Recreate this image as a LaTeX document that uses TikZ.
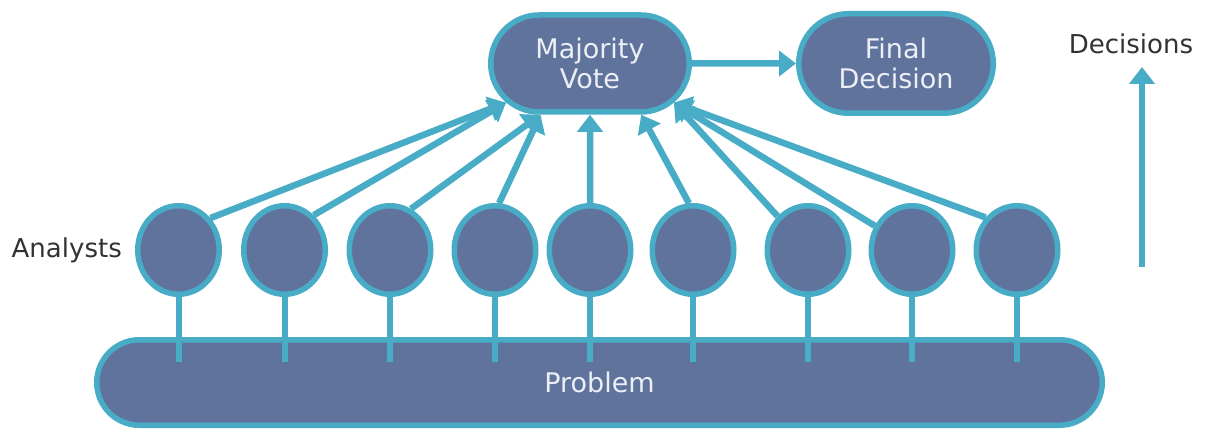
\documentclass[tikz,border=0pt]{standalone}
\usepackage{fontspec}
\setmainfont{DejaVu Sans}
\usepackage{tikz}
\usetikzlibrary{positioning,arrows.meta,shapes.misc,shapes.geometric}
\definecolor{boxslate}{RGB}{96,115,156}
\definecolor{edgecyan}{RGB}{72,172,198}
\definecolor{boxtext}{RGB}{236,239,245}
\definecolor{labgray}{RGB}{50,50,50}

\begin{document}
\begin{tikzpicture}[
      x=1pt, y=-1pt,
      pill/.style={rounded rectangle, draw=edgecyan, fill=boxslate, line width=5.5pt, text=boxtext, align=center, inner sep=0pt, font=\fontsize{27}{30}\selectfont},
      analyst/.style={ellipse, draw=edgecyan, fill=boxslate, line width=5.5pt, minimum width=81.5pt, minimum height=88.5pt, inner sep=0pt},
      arrow/.style={-{Triangle[length=17pt, width=25pt]}, draw=edgecyan, line width=6.5pt},
      stem/.style={draw=edgecyan, line width=6pt},
      lab/.style={text=labgray, inner sep=0pt, font=\fontsize{26}{29}\selectfont}
    ]
    \useasboundingbox (0,0) rectangle (1209,430);

    \node[pill, minimum width=198.5pt, minimum height=97pt] (vote) at (590,63.5) {Majority\\Vote};
    \node[pill, minimum width=194.5pt, minimum height=99.5pt, right=104pt of vote] (final) {Final\\Decision};

    \node[pill, minimum width=1005.5pt, minimum height=85.5pt] (problem) at (599.5,382.5) {Problem};

    \node[analyst] (a1) at (178.5,250) {};
    \node[analyst] (a2) at (284.5,250) {};
    \node[analyst] (a3) at (390,250) {};
    \node[analyst] (a4) at (495,250) {};
    \node[analyst] (a5) at (590,250) {};
    \node[analyst] (a6) at (693,250) {};
    \node[analyst] (a7) at (808,250) {};
    \node[analyst] (a8) at (912,250) {};
    \node[analyst] (a9) at (1017,250) {};
    \node[lab, left=13pt of a1] (analysts) {Analysts};

    \node[lab] (decisions) at (1131,44) {Decisions};
    \coordinate (dbase) at (1142,267);
    \coordinate (dtip) at (1142,67);

    \draw[stem] (a1) -- ([yshift=-25pt]a1 |- problem.north);
    \draw[stem] (a2) -- ([yshift=-25pt]a2 |- problem.north);
    \draw[stem] (a3) -- ([yshift=-25pt]a3 |- problem.north);
    \draw[stem] (a4) -- ([yshift=-25pt]a4 |- problem.north);
    \draw[stem] (a5) -- ([yshift=-25pt]a5 |- problem.north);
    \draw[stem] (a6) -- ([yshift=-25pt]a6 |- problem.north);
    \draw[stem] (a7) -- ([yshift=-25pt]a7 |- problem.north);
    \draw[stem] (a8) -- ([yshift=-25pt]a8 |- problem.north);
    \draw[stem] (a9) -- ([yshift=-25pt]a9 |- problem.north);

    \draw[arrow] (a1.45) -- (vote.205);
    \draw[arrow] (a2.50) -- (vote.205);
    \draw[arrow] (a3.63) -- (vote.226);
    \draw[arrow] (a4.85) -- (vote.226);
    \draw[arrow] (a5) -- (vote);
    \draw[arrow] (a6.95) -- (vote.315);
    \draw[arrow] (a7.132) -- (vote.335);
    \draw[arrow] (a8.147) -- (vote.335);
    \draw[arrow] (a9.134) -- (vote.335);

    \draw[arrow] (vote) -- (final);
    \draw[arrow] (dbase) -- (dtip);
    \end{tikzpicture}
\end{document}
